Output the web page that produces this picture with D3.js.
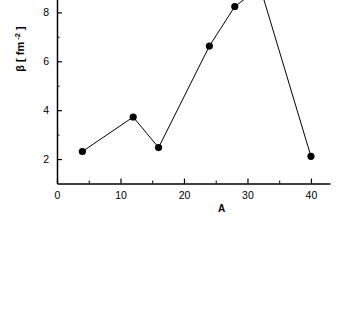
<!DOCTYPE html>
<html>
<head>
<meta charset="utf-8">
<script src="https://cdn.jsdelivr.net/npm/d3@7"></script>
<style>
  body { margin: 0; background: #fff; }
  svg { display: block; }
  .axis text { font-family: "Liberation Sans", Arial, sans-serif; font-size: 10.5px; fill: #000; }
</style>
</head>
<body>
<svg width="354" height="316"></svg>
<script>
// data
var massNumbers = [4, 12, 16, 24, 28, 32, 40];
var betaValues = [2.31, 3.72, 2.47, 6.62, 8.24, 9.03, 2.11];
var xTicks = [0, 10, 20, 30, 40];
var xMinorTicks = [5, 15, 25, 35];
var yTicks = [2, 4, 6, 8];
var yMinorTicks = [3, 5, 7, 9];

var svg = d3.select("svg");

// plot area (top is cut off in the original)
var x = d3.scaleLinear().domain([0, 43]).range([57, 330]);
var y = d3.scaleLinear().domain([1, 10]).range([183.5, -36.5]);

var points = massNumbers.map(function(a, i) { return {a: a, b: betaValues[i]}; });

// x axis, ticks pointing inward
var xAxis = svg.append("g")
    .attr("class", "axis")
    .attr("transform", "translate(0," + y(1) + ")")
    .call(d3.axisBottom(x).tickValues(xTicks).tickSizeInner(-5).tickSizeOuter(0).tickPadding(8));
xAxis.select(".domain").attr("stroke-width", 1.5);
xAxis.selectAll(".tick line").attr("stroke-width", 1.2);

svg.append("g")
    .attr("transform", "translate(0," + y(1) + ")")
    .call(d3.axisBottom(x).tickValues(xMinorTicks).tickSizeInner(-3).tickSizeOuter(0).tickFormat(""))
    .call(function(g) { g.select(".domain").remove(); });

// y axis
var yAxis = svg.append("g")
    .attr("class", "axis")
    .attr("transform", "translate(" + x(0) + ",0)")
    .call(d3.axisLeft(y).tickValues(yTicks).tickSizeInner(-5).tickSizeOuter(0).tickPadding(8));
yAxis.select(".domain").attr("stroke-width", 1.5);
yAxis.selectAll(".tick line").attr("stroke-width", 1.2);

svg.append("g")
    .attr("transform", "translate(" + x(0) + ",0)")
    .call(d3.axisLeft(y).tickValues(yMinorTicks).tickSizeInner(-2.5).tickSizeOuter(0).tickFormat(""))
    .call(function(g) { g.select(".domain").remove(); });

// line + markers
var line = d3.line()
    .x(function(d) { return x(d.a); })
    .y(function(d) { return y(d.b); });

svg.append("path")
    .datum(points)
    .attr("d", line)
    .attr("fill", "none")
    .attr("stroke", "#000")
    .attr("stroke-width", 1);

svg.selectAll(".dot")
    .data(points)
    .enter().append("circle")
    .attr("class", "dot")
    .attr("cx", function(d) { return x(d.a); })
    .attr("cy", function(d) { return y(d.b); })
    .attr("r", 3.6)
    .attr("fill", "#000");

// axis titles
svg.append("text")
    .attr("x", 221.5)
    .attr("y", 212)
    .attr("text-anchor", "middle")
    .attr("font-family", "Liberation Sans, Arial, sans-serif")
    .attr("font-size", 10)
    .attr("font-weight", "bold")
    .text("A");

var yTitle = svg.append("text")
    .attr("transform", "translate(24,49) rotate(-90)")
    .attr("text-anchor", "middle")
    .attr("font-family", "Liberation Sans, Arial, sans-serif")
    .attr("font-size", 11)
    .attr("font-weight", "bold");
yTitle.append("tspan").text("β  [  fm");
yTitle.append("tspan").attr("dy", -4).attr("font-size", 7.5).text(" -2");
yTitle.append("tspan").attr("dy", 4).text("  ]");
</script>
</body>
</html>
